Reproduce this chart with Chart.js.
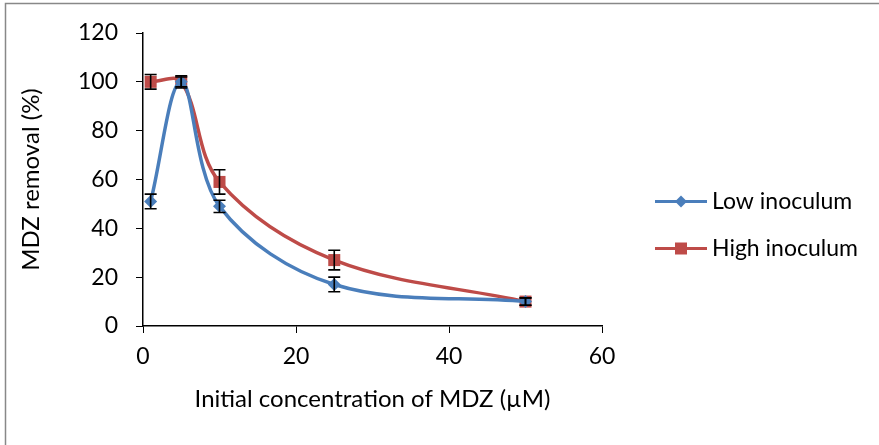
<!DOCTYPE html>
<html>
<head>
<meta charset="utf-8">
<script src="https://cdn.jsdelivr.net/npm/chart.js@4.4.1/dist/chart.umd.min.js"></script>
<style>
  html, body { margin: 0; padding: 0; background: #fff; }
</style>
</head>
<body>
<canvas id="mdzChart" width="879" height="445"></canvas>
<script>
"use strict";

const concentrations = [1, 5, 10, 25, 50];
const lowRemoval = [51, 100, 49, 17, 10];
const highRemoval = [100, 100, 59, 27, 10];
const lowError = [3, 2, 2.5, 3, 1.5];
const highError = [3, 2.5, 5, 4, 1.5];
const xTicks = [0, 20, 40, 60];
const yTicks = [0, 20, 40, 60, 80, 100, 120];
const seriesNames = [`Low inoculum`, `High inoculum`];

const blue = `#4A7EBB`;
const red = `#BE4B48`;
const font = `Lato`;

const toPoints = (vals) => vals.map((v, i) => ({ x: concentrations[i], y: v }));

const frame = {
  id: `frame`,
  beforeDraw(chart) {
    const { ctx } = chart;
    ctx.save();
    ctx.fillStyle = `#fff`;
    ctx.fillRect(0, 0, chart.width, chart.height);
    ctx.strokeStyle = `#888`;
    ctx.lineWidth = 1.5;
    ctx.strokeRect(5.5, 3.5, chart.width + 20, chart.height + 20);
    ctx.restore();
  }
};

const errorBars = {
  id: `errorBars`,
  afterDatasetsDraw(chart) {
    const { ctx } = chart;
    const xs = chart.scales.x;
    const ys = chart.scales.y;
    ctx.save();
    ctx.strokeStyle = `#000`;
    ctx.lineWidth = 1.6;
    chart.data.datasets.forEach((ds) => {
      ds.data.forEach((pt, i) => {
        const err = ds.errors[i];
        const px = xs.getPixelForValue(pt.x);
        const top = ys.getPixelForValue(pt.y + err);
        const bottom = ys.getPixelForValue(pt.y - err);
        ctx.beginPath();
        ctx.moveTo(px, top);
        ctx.lineTo(px, bottom);
        ctx.moveTo(px - 6, top);
        ctx.lineTo(px + 6, top);
        ctx.moveTo(px - 6, bottom);
        ctx.lineTo(px + 6, bottom);
        ctx.stroke();
      });
    });
    ctx.restore();
  }
};

// legend to the right of the plot: line + marker + name
const sideLegend = {
  id: `sideLegend`,
  afterDraw(chart) {
    const { ctx, chartArea } = chart;
    const x0 = chartArea.right + 53;
    const midY = (chartArea.top + chartArea.bottom) / 2;
    ctx.save();
    chart.data.datasets.forEach((ds, i) => {
      const y = midY + 22 + i * 47;
      ctx.strokeStyle = ds.borderColor;
      ctx.fillStyle = ds.backgroundColor;
      ctx.lineWidth = 3;
      ctx.beginPath();
      ctx.moveTo(x0, y);
      ctx.lineTo(x0 + 52, y);
      ctx.stroke();
      const cx = x0 + 26;
      ctx.beginPath();
      if (ds.pointStyle === `rectRot`) {
        ctx.moveTo(cx, y - 6);
        ctx.lineTo(cx + 6, y);
        ctx.lineTo(cx, y + 6);
        ctx.lineTo(cx - 6, y);
        ctx.closePath();
      } else {
        ctx.rect(cx - 6, y - 6, 12, 12);
      }
      ctx.fill();
      ctx.fillStyle = `#000`;
      ctx.font = `23px ${font}`;
      ctx.textAlign = `left`;
      ctx.textBaseline = `middle`;
      ctx.fillText(ds.label, x0 + 57, y);
    });
    ctx.restore();
  }
};

const chart = new Chart(document.getElementById(`mdzChart`), {
  type: `line`,
  data: {
    datasets: [
      {
        label: seriesNames[0],
        data: toPoints(lowRemoval),
        errors: lowError,
        borderColor: blue,
        backgroundColor: blue,
        borderWidth: 3.5,
        pointStyle: `rectRot`,
        pointRadius: 6.5,
        pointBorderWidth: 0,
        tension: 0.35
      },
      {
        label: seriesNames[1],
        data: toPoints(highRemoval),
        errors: highError,
        borderColor: red,
        backgroundColor: red,
        borderWidth: 3.5,
        pointStyle: `rect`,
        pointRadius: 8.5,
        pointBorderWidth: 0,
        tension: 0.35
      }
    ]
  },
  options: {
    responsive: false,
    animation: false,
    layout: { padding: { top: 33, right: 277, bottom: 0, left: 0 } },
    plugins: {
      tooltip: { enabled: false },
      legend: { display: false }
    },
    scales: {
      x: {
        type: `linear`,
        min: 0,
        max: 60,
        afterBuildTicks(scale) { scale.ticks = xTicks.map((v) => ({ value: v })); },
        afterFit(scale) { scale.height = 119; },
        grid: { drawOnChartArea: false, drawTicks: true, tickLength: 7, tickColor: `#000`, tickWidth: 1 },
        border: { display: true, color: `#000`, width: 1.5 },
        ticks: { color: `#000`, font: { family: font, size: 23 }, padding: 10, maxRotation: 0 },
        title: {
          display: true,
          text: `Initial concentration of MDZ (µM)`,
          color: `#000`,
          font: { family: font, size: 24 },
          padding: { top: 4, bottom: 31 }
        }
      },
      y: {
        type: `linear`,
        min: 0,
        max: 120,
        afterBuildTicks(scale) { scale.ticks = yTicks.map((v) => ({ value: v })); },
        afterFit(scale) { scale.width = 143; },
        grid: { drawOnChartArea: false, drawTicks: true, tickLength: 7, tickColor: `#000`, tickWidth: 1 },
        border: { display: true, color: `#000`, width: 1.5 },
        ticks: { color: `#000`, font: { family: font, size: 23 }, padding: 18 },
        title: {
          display: true,
          text: `MDZ removal (%)`,
          color: `#000`,
          font: { family: font, size: 24 },
          padding: { top: 17, bottom: 0 }
        }
      }
    }
  },
  plugins: [frame, errorBars, sideLegend]
});
</script>
</body>
</html>
